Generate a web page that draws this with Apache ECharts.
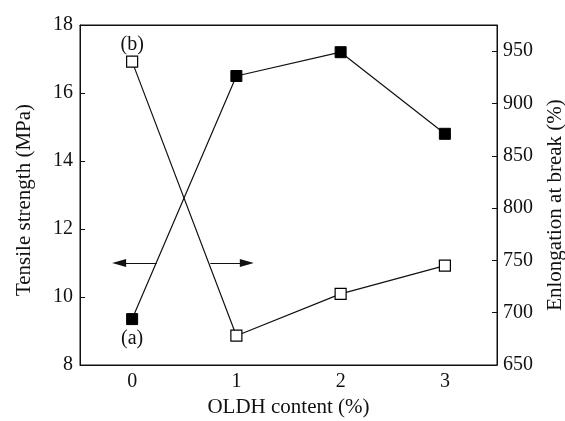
<!DOCTYPE html>
<html>
<head>
<meta charset="utf-8">
<script src="https://cdn.jsdelivr.net/npm/echarts@6/dist/echarts.min.js"></script>
<style>html,body{margin:0;padding:0;background:#fff}#c{width:565px;height:421px}</style>
</head>
<body>
<div id="c"></div>
<script>
const categories = ['0', '1', '2', '3'];
const tensileStrength = [9.35, 16.5, 17.2, 14.8];
const elongation = [940, 678, 718, 745];
const leftTicks = { min: 8, max: 18, interval: 2 };
const rightTicks = { min: 650, max: 975, interval: 50 };
const arrowLeft = [[0.235, 11], [-0.125, 11]];
const arrowRight = [[0.75, 11], [1.1, 11]];
const labelA = '(a)';
const labelB = '(b)';

const FONT = '"Liberation Serif", "DejaVu Serif", serif';
const INK = '#111';

const chart = echarts.init(document.getElementById('c'));
chart.setOption({
  animation: false,
  backgroundColor: '#fff',
  grid: { left: 80, top: 25, right: 68, bottom: 56, show: true, borderColor: INK, borderWidth: 1, containLabel: false, outerBoundsMode: 'none' },
  xAxis: [{
    type: 'category', data: categories, boundaryGap: true, position: 'bottom',
    name: 'OLDH content (%)', nameLocation: 'middle', nameGap: 31,
    nameTextStyle: { fontFamily: FONT, fontSize: 21, color: INK },
    axisLine: { onZero: false, lineStyle: { color: INK, width: 1 } },
    axisTick: { inside: true, alignWithLabel: true, length: 5, lineStyle: { color: INK } },
    axisLabel: { fontFamily: FONT, fontSize: 20, color: INK, margin: 7 },
    splitLine: { show: false }
  }, {
    type: 'value', min: -0.5, max: 3.5, position: 'top', show: true,
    axisLine: { show: true, onZero: false, lineStyle: { color: INK, width: 1 } },
    axisTick: { show: false }, axisLabel: { show: false }, splitLine: { show: false }
  }],
  yAxis: [{
    type: 'value', min: leftTicks.min, max: leftTicks.max, interval: leftTicks.interval, position: 'left',
    name: 'Tensile strength (MPa)', nameLocation: 'middle', nameGap: 45, nameRotate: 90,
    nameTextStyle: { fontFamily: FONT, fontSize: 21, color: INK, padding: [0, 10, 0, 0] },
    axisLine: { show: true, onZero: false, lineStyle: { color: INK, width: 1 } },
    axisTick: { show: true, inside: true, length: 5, lineStyle: { color: INK } },
    axisLabel: { fontFamily: FONT, fontSize: 20, color: INK, margin: 7 },
    splitLine: { show: false }
  }, {
    type: 'value', min: rightTicks.min, max: rightTicks.max, interval: rightTicks.interval, position: 'right',
    name: 'Enlongation at break (%)', nameLocation: 'middle', nameGap: 48, nameRotate: 90,
    nameTextStyle: { fontFamily: FONT, fontSize: 21, color: INK, padding: [0, 20, 0, 0] },
    axisLine: { show: true, onZero: false, lineStyle: { color: INK, width: 1 } },
    axisTick: { show: true, inside: true, length: 5, lineStyle: { color: INK } },
    axisLabel: { fontFamily: FONT, fontSize: 20, color: INK, margin: 6, showMaxLabel: false },
    splitLine: { show: false }
  }],
  series: [{
    type: 'line', xAxisIndex: 0, yAxisIndex: 0,
    data: tensileStrength.map((v, i) => i === 0 ? {
      value: v,
      label: { show: true, position: 'bottom', distance: 4, formatter: labelA, fontFamily: FONT, fontSize: 20, color: INK }
    } : v),
    symbol: 'rect', symbolSize: 11, showAllSymbol: true,
    itemStyle: { color: '#000', borderColor: '#000', borderWidth: 1 },
    lineStyle: { color: INK, width: 1.2 }
  }, {
    type: 'line', xAxisIndex: 0, yAxisIndex: 1,
    data: elongation.map((v, i) => i === 0 ? {
      value: v,
      label: { show: true, position: 'top', distance: 1, formatter: labelB, fontFamily: FONT, fontSize: 20, color: INK }
    } : v),
    symbol: 'rect', symbolSize: 11, showAllSymbol: true,
    itemStyle: { color: '#fff', borderColor: '#000', borderWidth: 1.2 },
    lineStyle: { color: INK, width: 1.2 }
  }, {
    type: 'line', xAxisIndex: 1, yAxisIndex: 0, data: [],
    markLine: {
      silent: true, animation: false,
      symbol: ['none', 'triangle'], symbolSize: [8, 14],
      label: { show: false },
      lineStyle: { color: INK, width: 1.2, type: 'solid' },
      data: [
        [{ coord: arrowLeft[0] }, { coord: arrowLeft[1] }],
        [{ coord: arrowRight[0] }, { coord: arrowRight[1] }]
      ]
    }
  }]
});
</script>
</body>
</html>
